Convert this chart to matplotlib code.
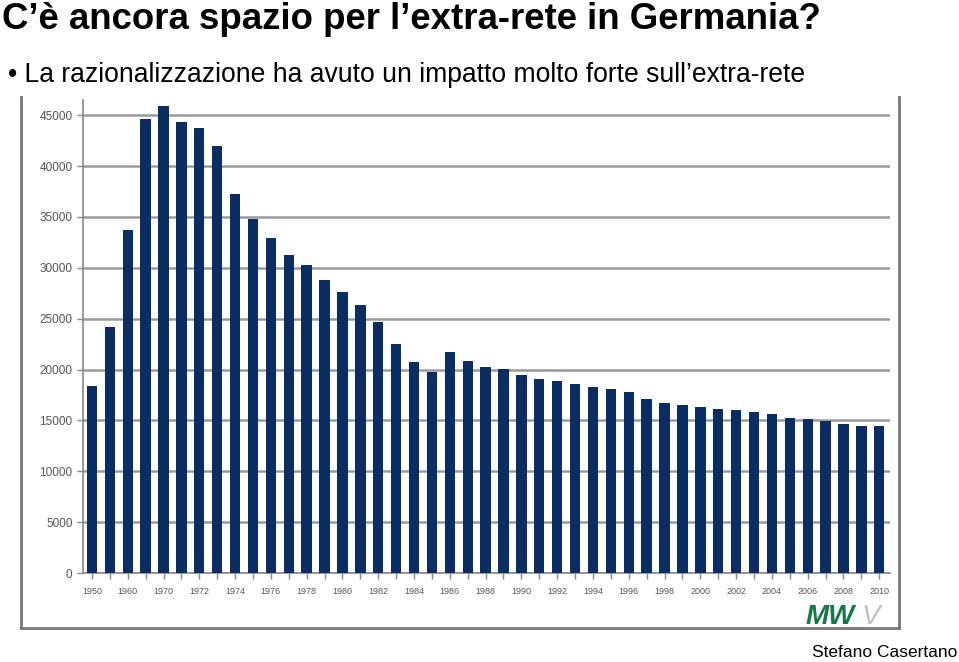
import matplotlib.pyplot as plt
from matplotlib.lines import Line2D

# impianti extra-rete in Germania (stima)
years = [1950, 1955, 1960, 1965] + list(range(1970, 2011))
stations = [18400, 24200, 33700, 44600, 45900, 44300, 43700, 42000, 37300, 34800,
            32900, 31300, 30300, 28800, 27600, 26300, 24700, 22500, 20750, 19750,
            21700, 20850, 20250, 20050, 19450, 19050, 18850, 18550, 18300, 18100,
            17750, 17100, 16700, 16500, 16300, 16100, 16000, 15800, 15600, 15250,
            15150, 14950, 14650, 14450, 14450]
yticks = list(range(0, 45001, 5000))

plt.rcParams['font.family'] = ['Liberation Sans', 'DejaVu Sans']

fig = plt.figure(figsize=(9.59, 6.62), dpi=100)

fig.text(0.002, 0.997, "C\u2019è ancora spazio per l\u2019extra-rete in Germania?",
         fontsize=26.4, fontweight='bold', va='top', ha='left')
fig.text(0.008, 0.886, "\u2022 La razionalizzazione ha avuto un impatto molto forte sull\u2019extra-rete",
         fontsize=19.1, va='center', ha='left')
fig.text(0.998, 0.003, "Stefano Casertano", fontsize=12.5, va='bottom', ha='right')

# cornice dell'immagine
W, H = 959, 662
def px(x, y):
    return x / W, 1 - y / H
for (x0, y0), (x1, y1) in [((21, 97), (21, 628)), ((21, 628), (899, 628)), ((899, 97), (899, 628))]:
    a, b = px(x0, y0)
    c, d = px(x1, y1)
    fig.add_artist(Line2D([a, c], [b, d], color='#777777', lw=2))

ax = fig.add_axes([83 / W, 1 - 573 / H, (890 - 83) / W, (573 - 100) / H])
pos = list(range(len(years)))
ax.bar(pos, stations, width=0.58, color='#0c2d63', zorder=3)
ax.set_xlim(-0.5, len(years) - 0.4)
ax.set_ylim(0, 46500)
ax.set_yticks(yticks)
ax.set_yticklabels([str(v) for v in yticks], fontsize=8.5, color='#555555')
ax.set_xticks(pos)
ax.set_xticklabels([str(y) if i % 2 == 0 else '' for i, y in enumerate(years)],
                   fontsize=6.5, color='#555555')
ax.tick_params(axis='both', length=4, width=1, color='#888888')
ax.tick_params(axis='x', pad=6)
ax.yaxis.grid(True, color='#9a9a9a', lw=1.8, zorder=0)
for s in ['top', 'right']:
    ax.spines[s].set_visible(False)
for s in ['left', 'bottom']:
    ax.spines[s].set_color('#888888')
    ax.spines[s].set_linewidth(1.2)

# logo MVV
fig.text(806 / W, 1 - 630 / H, "MW", fontsize=20, fontweight='bold', style='italic',
         color='#16774a', ha='left', va='bottom')
fig.text(862 / W, 1 - 630 / H, "V", fontsize=20, style='italic',
         color='#c0c0c0', ha='left', va='bottom')

fig.savefig('out.png', dpi=100)
